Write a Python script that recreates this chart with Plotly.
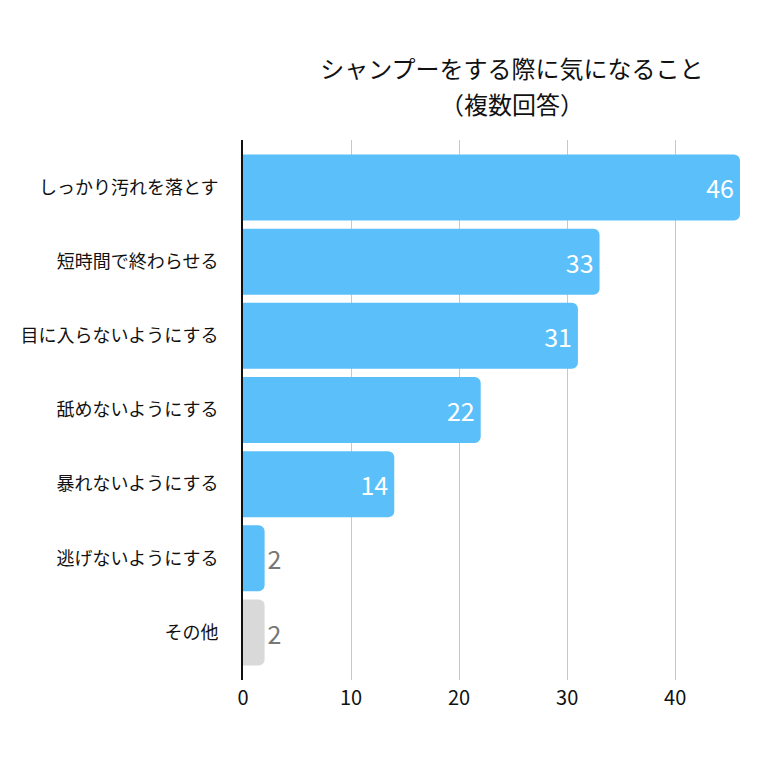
import plotly.graph_objects as go

categories = ["しっかり汚れを落とす", "短時間で終わらせる", "目に入らないようにする",
              "舐めないようにする", "暴れないようにする", "逃げないようにする", "その他"]
values = [46, 33, 31, 22, 14, 2, 2]
bar_colors = ["#5BC0FA"] * 6 + ["#D9D9D9"]
x_ticks = [0, 10, 20, 30, 40]

font = "Noto Sans CJK JP"

# big bars get the number inside in white, tiny ones outside in grey
positions = ["inside" if v > 5 else "outside" for v in values]

fig = go.Figure(go.Bar(
    y=categories,
    x=values,
    orientation="h",
    marker=dict(color=bar_colors, line=dict(width=0)),
    text=[str(v) for v in values],
    textposition=positions,
    insidetextanchor="end",
    outsidetextfont=dict(family=font, size=25, color="#777777"),
    insidetextfont=dict(family=font, size=25, color="white"),
    cliponaxis=False,
))

fig.update_layout(
    width=760, height=761,
    margin=dict(l=235, r=28, t=132, b=89),
    paper_bgcolor="white", plot_bgcolor="white",
    title=dict(text="シャンプーをする際に気になること",
               x=0.663, xanchor="center", y=0.9185, yanchor="middle",
               font=dict(family=font, size=24, color="#111111")),
    bargap=0.11,
    barcornerradius=6,
    showlegend=False,
    font=dict(family=font, color="#111111"),
    uniformtext=dict(mode=False),
)
# second title line as its own text so the two lines keep the reference spacing
# (annotation paper coords are relative to the plot area)
fig.add_annotation(
    text="（複数回答）", xref="paper", yref="paper", x=0.541, y=1.0667,
    xanchor="center", yanchor="middle", showarrow=False,
    font=dict(family=font, size=24, color="#111111"),
)
fig.update_xaxes(
    range=[0, 46], tickvals=x_ticks, showgrid=True, gridcolor="#C8C8C8", gridwidth=1,
    zeroline=False, showline=False, tickfont=dict(family=font, size=20, color="#111111"),
    ticks="", ticklabelstandoff=4, automargin=False,
)
fig.update_yaxes(
    categoryorder="array", categoryarray=categories, autorange=False, range=[6.64, -0.64],
    showline=True, linecolor="#111111", linewidth=2, ticks="", ticklabelstandoff=19,
    tickfont=dict(family=font, size=18, color="#111111"), automargin=False,
)

fig.write_html("out.html")
